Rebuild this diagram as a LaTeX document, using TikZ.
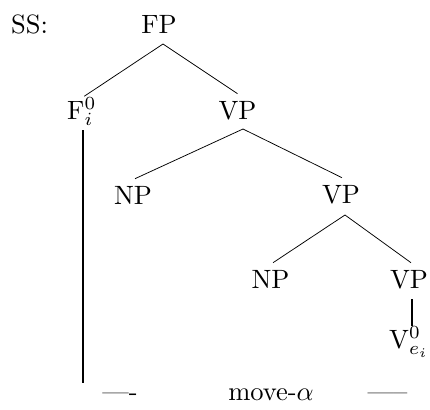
\documentclass[tikz,border=0pt]{standalone}
\newcommand\bigtx[1]{\scalebox{2.65}{#1}}
\begin{document}
\begin{tikzpicture}[x=1pt,y=-1pt,
  lab/.style={inner sep=0pt, anchor=base},
  edge/.style={line width=0.75pt},
  bar/.style={line width=2.2pt}]
\useasboundingbox (0,0) rectangle (430,409);
\node[lab, anchor=base west] (ss) at (11,34) {\bigtx{SS:}};
\node[lab] (fp) at (159,34) {\bigtx{FP}};
\node[lab, anchor=base west] (f) at (67,119) {\bigtx{F$^0_i$}};
\node[lab] (vp1) at (237.5,119) {\bigtx{VP}};
\node[lab] (np1) at (133,204) {\bigtx{NP}};
\node[lab] (vp2) at (341,203) {\bigtx{VP}};
\node[lab] (np2) at (270.5,288) {\bigtx{NP}};
\node[lab] (vp3) at (409,288) {\bigtx{VP}};
\node[lab, anchor=base west] (v) at (389,348) {\bigtx{V$^0_{e_i}$}};
\node[lab] (d1) at (120,400) {\bigtx{----}};
\node[lab] (mv) at (271,400) {\bigtx{move-$\alpha$}};
\node[lab] (d2) at (387.5,400) {\bigtx{-----}};
\coordinate (fend) at (83,383);
% tree edges
\draw[edge] ([shift={(4,10)}]fp.base) -- ([shift={(2.5,-1)}]f.north);
\draw[edge] ([shift={(4,10)}]fp.base) -- ([shift={(0,-7)}]vp1.north);
\draw[edge] ([shift={(5.5,10)}]vp1.base) -- ([shift={(2,-7)}]np1.north);
\draw[edge] ([shift={(5.5,10)}]vp1.base) -- ([shift={(1,-7)}]vp2.north);
\draw[edge] ([shift={(4,12)}]vp2.base) -- ([shift={(2.5,-7)}]np2.north);
\draw[edge] ([shift={(4,12)}]vp2.base) -- ([shift={(2,-7)}]vp3.north);
\draw[bar] ([shift={(3,11)}]vp3.base) -- ([xshift=3pt]vp3.base |- v.north);
\draw[bar] ([yshift=-11pt]f.base -| fend) -- (fend);
\end{tikzpicture}
\end{document}
